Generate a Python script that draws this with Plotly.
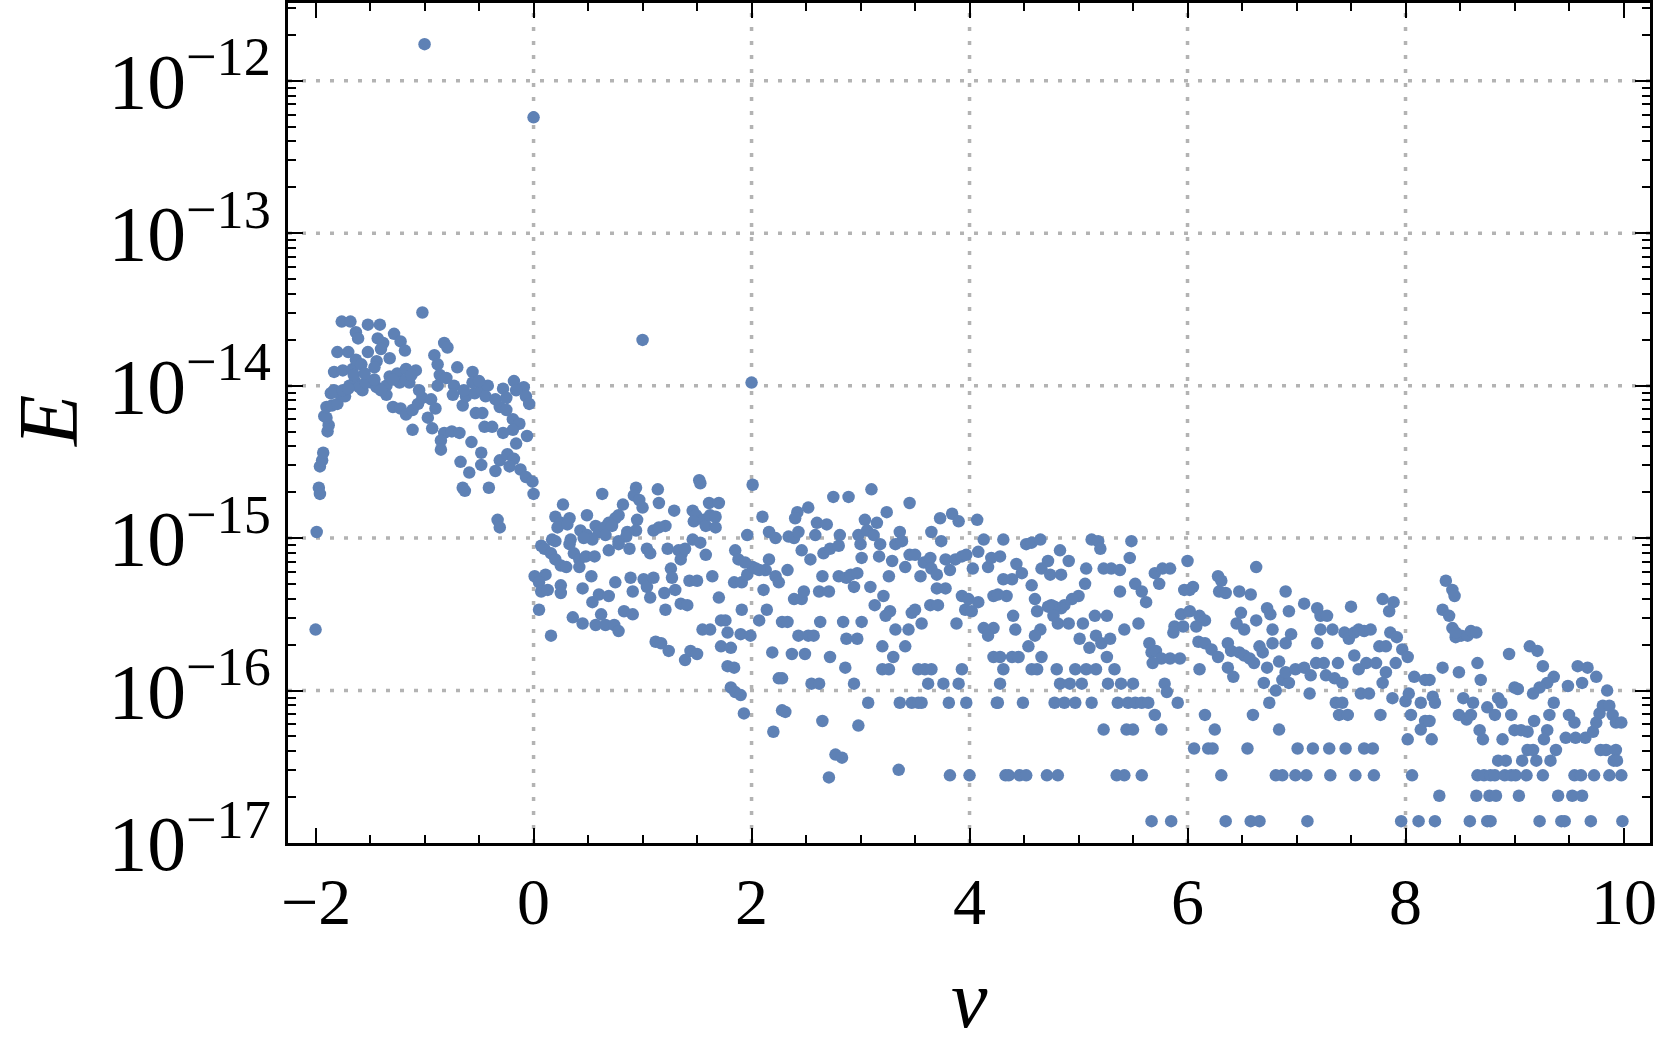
"""Scatter of E against nu on a log axis, styled like a Mathematica ListLogPlot."""

import plotly.graph_objects as go

FONT_FAMILY = "Liberation Serif"
POINT_COLOR = "#5E81B5"

# Points as (nu, log10 E).
isolated_points = [(-2.00, -15.60), (-1.00, -11.76), (0.00, -12.24), (1.00, -13.70), (2.00, -13.98)]

points_nu_m2_0 = [
    (-1.99, -14.96), (-1.97, -14.67), (-1.96, -14.71), (-1.96, -14.53), (-1.94, -14.49), (-1.93, -14.44),
    (-1.89, -14.30), (-1.88, -14.26), (-1.90, -14.21), (-1.92, -14.20), (-1.90, -14.14), (-1.85, -14.13),
    (-1.80, -14.12), (-1.83, -14.03), (-1.78, -14.05), (-1.73, -14.07), (-1.75, -14.03), (-1.83, -13.91),
    (-1.75, -13.90), (-1.80, -13.78), (-1.70, -13.78), (-1.76, -13.58), (-1.68, -13.58), (-1.63, -13.65),
    (-1.61, -13.69), (-1.66, -13.89), (-1.63, -13.83), (-1.64, -13.97), (-1.69, -14.00), (-1.57, -14.03),
    (-1.52, -13.78), (-1.52, -13.60), (-1.41, -13.60), (-1.43, -13.69), (-1.38, -13.72), (-1.40, -13.76),
    (-1.44, -13.84), (-1.46, -13.88), (-1.32, -13.82), (-1.28, -13.66), (-1.22, -13.71), (-1.18, -13.77),
    (-1.49, -13.98), (-1.44, -14.01), (-1.35, -14.00), (-1.32, -13.94), (-1.25, -13.92), (-1.17, -13.89),
    (-1.08, -13.90), (-1.23, -13.98), (-1.14, -13.98), (-1.35, -14.06), (-1.29, -14.14), (-1.22, -14.15),
    (-1.17, -14.19), (-1.11, -14.16), (-1.06, -14.12), (-1.02, -14.08), (-0.94, -14.09), (-0.90, -14.15),
    (-1.11, -14.29), (-0.97, -14.21), (-0.93, -14.28), (-1.02, -13.52), (-0.82, -13.72), (-0.79, -13.75),
    (-0.91, -13.80), (-0.88, -13.86), (-0.86, -13.93), (-0.88, -14.00), (-0.80, -13.95), (-0.73, -14.00),
    (-0.70, -13.88), (-0.56, -13.91), (-0.74, -14.06), (-0.65, -14.13), (-0.62, -14.07), (-0.54, -14.05),
    (-0.48, -14.03), (-0.42, -14.00), (-0.53, -14.18), (-0.47, -14.18), (-0.45, -14.27), (-0.38, -14.27),
    (-0.28, -14.02), (-0.18, -13.97), (-0.09, -14.01), (-0.07, -14.07), (-0.04, -14.12), (-0.31, -14.14),
    (-0.25, -14.16), (-0.19, -14.22), (-0.13, -14.25), (-0.19, -14.29), (-0.28, -14.31), (-0.16, -14.38),
    (-0.06, -14.33), (-0.82, -14.31), (-0.75, -14.30), (-0.68, -14.31), (-0.85, -14.36), (-0.85, -14.42),
    (-0.57, -14.37), (-0.48, -14.44), (-0.48, -14.52), (-0.67, -14.50), (-0.59, -14.57), (-0.65, -14.67),
    (-0.63, -14.69), (-0.41, -14.67), (-0.35, -14.56), (-0.31, -14.49), (-0.24, -14.45), (-0.18, -14.48),
    (-0.22, -14.53), (-0.12, -14.55), (-0.07, -14.60), (-0.01, -14.63), (0.00, -14.71), (-0.33, -14.88),
    (-0.31, -14.93), (-1.60, -14.01), (-1.54, -13.98), (-1.40, -14.03), (-1.46, -13.96), (-1.29, -13.96),
    (-1.17, -13.96), (-1.12, -13.93), (-1.05, -14.03), (-0.64, -14.03), (-0.56, -13.98), (-0.50, -13.97),
    (-0.44, -14.07), (-0.35, -14.09), (-0.25, -14.08), (-0.16, -14.03), (-1.86, -14.05), (-1.70, -14.02),
    (-1.65, -13.93), (-1.58, -13.86), (-1.55, -13.92),
]

points_nu_0_2 = [
    (0.27, -14.78), (0.20, -14.86), (0.25, -14.90), (0.22, -14.93), (0.33, -14.87), (0.31, -14.91),
    (0.49, -14.85), (0.63, -14.71), (0.43, -14.95), (0.49, -14.98), (0.57, -14.92), (0.60, -14.96),
    (0.65, -14.93), (0.69, -14.90), (0.75, -14.87), (0.78, -14.85), (0.82, -14.78), (0.72, -14.92),
    (0.66, -14.98), (0.54, -15.01), (0.46, -15.00), (0.94, -14.67), (0.92, -14.72), (0.97, -14.75),
    (1.00, -14.80), (0.95, -14.88), (0.94, -14.95), (0.86, -14.96), (0.85, -14.99), (0.78, -15.02),
    (1.14, -14.68), (1.15, -14.77), (1.29, -14.82), (1.10, -14.95), (1.21, -14.92), (1.15, -14.93),
    (1.52, -14.62), (1.53, -14.64), (1.46, -14.82), (1.49, -14.85), (1.47, -14.89), (1.61, -14.77),
    (1.70, -14.77), (1.56, -14.88), (1.58, -14.92), (1.67, -14.93), (1.62, -14.85), (1.67, -14.86),
    (0.07, -15.05), (0.10, -15.07), (0.17, -15.01), (0.20, -15.02), (0.16, -15.10), (0.20, -15.14),
    (0.25, -15.18), (0.30, -15.19), (0.34, -15.01), (0.33, -15.04), (0.37, -15.10), (0.42, -15.14),
    (0.42, -15.19), (0.48, -15.12), (0.56, -15.12), (0.69, -15.08), (0.78, -15.04), (0.88, -15.07),
    (1.04, -15.07), (1.07, -15.10), (1.23, -15.07), (1.33, -15.08), (1.36, -15.10), (1.35, -15.14),
    (1.39, -15.07), (1.46, -15.01), (1.53, -15.03), (1.58, -15.11), (0.01, -15.25), (0.11, -15.24),
    (0.05, -15.29), (0.07, -15.35), (0.13, -15.34), (0.25, -15.31), (0.25, -15.36), (0.45, -15.33),
    (0.53, -15.25), (0.54, -15.42), (0.60, -15.37), (0.69, -15.38), (0.75, -15.29), (0.89, -15.26),
    (0.91, -15.35), (1.01, -15.27), (1.04, -15.32), (1.07, -15.39), (1.10, -15.26), (1.20, -15.36),
    (1.26, -15.20), (1.27, -15.26), (1.30, -15.34), (1.35, -15.43), (1.41, -15.44), (1.43, -15.28),
    (1.50, -15.28), (1.64, -15.25), (1.70, -15.39), (1.84, -15.29), (1.91, -15.29), (1.96, -15.24),
    (2.01, -15.19), (2.04, -15.20), (1.91, -15.47), (1.96, -14.98), (2.01, -14.65), (0.05, -15.47),
    (0.16, -15.64), (0.36, -15.52), (0.45, -15.56), (0.57, -15.57), (0.62, -15.50), (0.66, -15.57),
    (0.74, -15.57), (0.78, -15.61), (0.83, -15.48), (0.91, -15.50), (1.21, -15.47), (1.12, -15.68),
    (1.17, -15.69), (1.24, -15.74), (1.39, -15.80), (1.44, -15.74), (1.50, -15.76), (1.55, -15.60),
    (1.62, -15.60), (1.72, -15.54), (1.76, -15.54), (1.78, -15.62), (1.72, -15.71), (1.81, -15.72),
    (1.90, -15.63), (1.99, -15.64), (1.78, -15.84), (1.84, -15.85), (1.81, -15.98), (1.85, -16.01),
    (1.90, -16.03), (1.93, -16.15), (1.85, -15.08), (1.88, -15.14), (1.94, -15.16),
]

points_nu_2_4 = [
    (2.10, -14.86), (2.16, -14.96), (2.22, -15.00), (2.42, -14.83), (2.40, -14.87), (2.52, -14.80),
    (2.34, -14.99), (2.39, -15.00), (2.43, -14.96), (2.46, -15.08), (2.54, -15.14), (2.60, -14.90),
    (2.585, -14.98), (2.69, -14.91), (2.66, -15.10), (2.72, -15.07), (2.80, -15.05), (2.81, -14.98),
    (2.75, -14.73), (2.89, -14.73), (3.10, -14.68), (2.98, -14.98), (3.04, -14.88), (3.00, -15.04),
    (3.01, -15.13), (3.06, -14.95), (3.12, -14.98), (3.15, -14.90), (3.18, -15.04), (3.17, -15.12),
    (3.24, -14.83), (3.29, -15.15), (3.32, -15.04), (3.36, -14.96), (3.38, -15.02), (3.41, -15.19),
    (3.45, -14.77), (3.45, -15.11), (3.50, -15.11), (3.58, -15.16), (3.64, -15.13), (3.65, -14.96),
    (3.73, -14.87), (3.74, -15.02), (3.84, -14.84), (3.90, -14.89), (3.65, -15.20), (3.70, -15.24),
    (3.78, -15.14), (3.82, -15.21), (3.87, -15.14), (3.93, -15.12), (3.97, -15.11), (4.07, -14.88),
    (4.13, -15.01), (4.08, -15.09), (4.03, -15.20), (4.17, -15.19), (4.20, -15.13), (2.16, -15.14),
    (2.13, -15.21), (2.22, -15.25), (2.25, -15.29), (2.07, -15.21), (2.11, -15.34), (2.33, -15.21),
    (2.39, -15.40), (2.46, -15.40), (2.48, -15.35), (2.62, -15.35), (2.71, -15.35), (2.65, -15.25),
    (2.80, -15.25), (2.87, -15.26), (2.94, -15.32), (2.91, -15.24), (2.97, -15.23), (3.09, -15.32),
    (3.21, -15.38), (3.13, -15.44), (3.26, -15.25), (3.27, -15.48), (3.23, -15.51), (3.47, -15.49),
    (3.50, -15.47), (3.55, -15.25), (3.70, -15.33), (3.78, -15.33), (3.64, -15.44), (3.71, -15.44),
    (3.93, -15.38), (3.96, -15.47), (3.99, -15.40), (4.08, -15.42), (4.02, -15.48), (4.22, -15.38),
    (2.07, -15.54), (2.14, -15.47), (2.28, -15.55), (2.33, -15.55), (2.63, -15.55), (2.84, -15.55),
    (3.01, -15.55), (2.43, -15.64), (2.52, -15.64), (2.57, -15.64), (2.87, -15.66), (2.97, -15.66),
    (3.32, -15.60), (3.44, -15.60), (3.56, -15.56), (3.88, -15.56), (4.13, -15.59), (4.17, -15.61),
    (4.22, -15.59), (4.17, -15.64), (2.19, -15.75), (2.37, -15.76), (2.49, -15.76), (2.72, -15.78),
    (3.20, -15.71), (3.30, -15.78), (3.41, -15.71), (2.86, -15.85), (3.20, -15.86), (3.26, -15.86),
    (3.53, -15.86), (3.59, -15.86), (3.65, -15.86), (3.93, -15.86), (4.22, -15.78), (2.25, -15.92),
    (2.28, -15.92), (2.55, -15.955), (2.62, -15.955), (2.94, -15.955), (3.62, -15.955), (3.76, -15.955),
    (3.90, -15.955), (3.07, -16.08), (3.36, -16.08), (3.47, -16.08), (3.53, -16.08), (3.56, -16.08),
    (3.81, -16.08), (3.97, -16.08), (4.25, -16.08), (2.28, -16.13), (2.31, -16.14), (2.65, -16.20),
    (2.20, -16.27), (2.98, -16.23), (2.77, -16.42), (2.83, -16.44), (2.71, -16.57), (3.35, -16.52),
    (3.82, -16.556), (4.00, -16.556),
]

points_nu_4_6 = [
    (4.31, -15.01), (4.52, -15.04), (4.57, -15.03), (4.65, -15.01), (4.83, -15.08), (5.12, -15.01),
    (5.18, -15.02), (5.20, -15.07), (5.485, -15.02), (5.47, -15.13), (4.28, -15.12), (4.43, -15.17),
    (4.48, -15.23), (4.66, -15.20), (4.72, -15.15), (4.74, -15.24), (4.84, -15.24), (4.91, -15.15),
    (5.07, -15.20), (5.23, -15.20), (5.30, -15.20), (5.38, -15.21), (5.70, -15.23), (5.77, -15.20),
    (5.84, -15.20), (5.74, -15.30), (5.52, -15.30), (5.58, -15.35), (5.62, -15.42), (5.38, -15.35),
    (5.06, -15.30), (5.00, -15.38), (4.94, -15.40), (4.87, -15.44), (4.84, -15.46), (4.78, -15.45),
    (4.75, -15.44), (4.72, -15.45), (4.60, -15.40), (4.62, -15.48), (4.57, -15.31), (4.39, -15.27),
    (4.31, -15.27), (4.34, -15.38), (4.26, -15.37), (4.40, -15.51), (4.42, -15.60), (4.77, -15.51),
    (4.81, -15.56), (4.91, -15.56), (5.04, -15.56), (5.15, -15.51), (5.26, -15.51), (5.01, -15.66),
    (5.10, -15.72), (5.16, -15.64), (5.21, -15.69), (5.29, -15.66), (5.26, -15.78), (5.42, -15.60),
    (5.55, -15.56), (5.65, -15.69), (5.67, -15.75), (5.71, -15.74), (5.76, -15.79), (5.84, -15.79),
    (5.93, -15.79), (5.68, -15.82), (4.65, -15.60), (4.60, -15.64), (4.54, -15.71), (4.39, -15.78),
    (4.45, -15.78), (4.66, -15.78), (4.28, -15.78), (4.31, -15.86), (4.57, -15.86), (4.62, -15.86),
    (4.80, -15.86), (4.97, -15.86), (5.07, -15.86), (5.16, -15.86), (5.33, -15.86), (4.28, -15.955),
    (4.83, -15.955), (4.92, -15.955), (5.03, -15.955), (5.27, -15.955), (5.39, -15.955), (5.50, -15.955),
    (5.79, -15.955), (5.81, -16.01), (4.26, -16.08), (4.49, -16.08), (4.78, -16.08), (4.87, -16.08),
    (4.97, -16.08), (5.12, -16.08), (5.36, -16.08), (5.455, -16.08), (5.52, -16.08), (5.58, -16.08),
    (5.64, -16.08), (5.70, -16.16), (5.91, -16.08), (5.23, -16.256), (5.44, -16.256), (5.50, -16.256),
    (5.76, -16.256), (6.16, -16.16), (6.25, -16.256), (6.06, -16.38), (6.19, -16.38), (6.23, -16.38),
    (6.31, -16.556), (4.33, -16.556), (4.36, -16.556), (4.46, -16.556), (4.52, -16.556), (4.71, -16.556),
    (4.81, -16.556), (5.35, -16.556), (5.42, -16.556), (5.58, -16.556), (5.67, -16.857), (5.85, -16.857),
    (6.35, -16.857), (6.00, -15.15), (6.02, -15.34), (5.97, -15.34), (6.05, -15.32), (5.94, -15.50),
    (6.02, -15.48), (6.11, -15.51), (6.16, -15.54), (6.28, -15.25), (6.31, -15.28), (6.29, -15.35),
    (6.35, -15.36), (6.45, -15.56), (5.88, -15.58), (5.87, -15.62), (5.96, -15.58), (6.08, -15.58),
    (6.10, -15.68), (6.16, -15.69), (6.22, -15.73), (6.28, -15.78), (6.37, -15.69), (6.40, -15.74),
    (6.37, -15.85), (6.42, -15.91), (6.11, -15.86),
]

points_nu_6_8 = [
    (6.63, -15.19), (6.475, -15.35), (6.58, -15.37), (6.90, -15.35), (6.49, -15.49), (6.52, -15.60),
    (6.63, -15.54), (6.73, -15.46), (6.76, -15.50), (6.93, -15.48), (7.07, -15.43), (7.19, -15.46),
    (7.22, -15.51), (7.28, -15.51), (7.22, -15.60), (7.33, -15.60), (7.19, -15.69), (7.44, -15.62),
    (7.48, -15.66), (7.50, -15.45), (7.53, -15.62), (7.57, -15.60), (7.62, -15.61), (7.68, -15.60),
    (7.79, -15.40), (7.89, -15.42), (7.85, -15.48), (7.86, -15.62), (7.92, -15.65), (7.97, -15.73),
    (8.02, -15.78), (7.76, -15.71), (7.82, -15.71), (7.53, -15.77), (7.64, -15.82), (7.73, -15.82),
    (6.475, -15.75), (6.52, -15.77), (6.57, -15.79), (6.61, -15.82), (6.66, -15.71), (6.69, -15.75),
    (6.73, -15.85), (6.78, -15.69), (6.84, -15.81), (6.90, -15.69), (6.95, -15.63), (6.78, -15.60),
    (6.87, -15.93), (6.93, -15.95), (6.81, -16.00), (6.90, -15.88), (6.99, -15.86), (7.07, -15.85),
    (7.13, -15.90), (7.18, -15.82), (7.25, -15.82), (7.27, -15.90), (7.38, -15.82), (7.35, -15.92),
    (7.42, -15.95), (7.57, -15.86), (7.82, -15.88), (7.91, -15.82), (7.79, -15.95), (7.88, -16.05),
    (6.70, -15.95), (6.75, -16.08), (6.60, -16.16), (6.84, -16.256), (7.12, -16.02), (7.59, -16.02),
    (7.665, -16.02), (7.36, -16.08), (7.42, -16.08), (7.39, -16.16), (7.47, -16.16), (7.77, -16.16),
    (8.00, -16.07), (8.05, -16.16), (8.08, -15.91), (8.18, -15.93), (8.03, -16.02), (8.14, -16.08),
    (8.18, -16.20), (8.14, -16.256), (8.02, -16.32), (6.55, -16.38), (7.01, -16.38), (7.15, -16.38),
    (7.30, -16.38), (7.45, -16.38), (7.62, -16.38), (7.70, -16.38), (6.81, -16.556), (6.87, -16.556),
    (6.99, -16.556), (7.09, -16.556), (7.31, -16.556), (7.54, -16.556), (7.71, -16.556), (8.06, -16.556),
    (6.58, -16.857), (6.66, -16.857), (7.10, -16.857), (7.96, -16.857), (8.12, -16.857),
]

points_nu_8_10 = [
    (8.37, -15.28), (8.43, -15.34), (8.45, -15.38), (8.34, -15.47), (8.40, -15.51), (8.43, -15.59),
    (8.46, -15.65), (8.51, -15.64), (8.57, -15.64), (8.60, -15.61), (8.65, -15.62), (8.46, -15.62),
    (8.22, -15.93), (8.25, -16.04), (8.27, -16.08), (8.22, -16.20), (8.24, -16.32), (8.34, -15.85),
    (8.49, -15.88), (8.66, -15.82), (8.69, -15.93), (8.53, -16.05), (8.62, -16.08), (8.49, -16.16),
    (8.56, -16.19), (8.60, -16.16), (8.68, -16.26), (8.71, -16.32), (8.75, -16.11), (8.82, -16.16),
    (8.85, -16.05), (8.88, -16.08), (8.89, -16.32), (8.95, -15.76), (8.97, -16.16), (9.00, -15.98),
    (9.03, -15.99), (9.00, -16.26), (9.06, -16.26), (9.12, -16.27), (9.14, -15.71), (9.21, -15.74),
    (9.26, -15.84), (9.36, -15.91), (9.30, -15.95), (9.23, -15.98), (9.17, -16.02), (9.18, -16.20),
    (9.12, -16.39), (9.17, -16.39), (9.30, -16.26), (9.27, -16.32), (9.32, -16.16), (9.36, -16.08),
    (9.38, -16.39), (9.33, -16.46), (9.20, -16.46), (9.07, -16.46), (8.85, -16.46), (8.92, -16.46),
    (9.47, -16.31), (9.49, -15.97), (9.50, -16.16), (9.55, -16.21), (9.56, -16.31), (9.58, -15.84),
    (9.62, -15.95), (9.65, -16.31), (9.67, -15.85), (9.75, -15.91), (9.72, -16.27), (9.75, -16.21),
    (9.78, -16.15), (9.81, -16.10), (9.87, -16.10), (9.90, -16.16), (9.85, -16.00), (9.93, -16.21),
    (9.98, -16.21), (9.79, -16.39), (9.84, -16.39), (9.93, -16.39), (9.91, -16.46), (9.94, -16.46),
    (8.66, -16.556), (8.72, -16.556), (8.78, -16.556), (8.82, -16.556), (8.91, -16.556), (8.97, -16.556),
    (9.01, -16.556), (9.11, -16.556), (9.26, -16.556), (9.55, -16.556), (9.61, -16.556), (9.73, -16.556),
    (9.87, -16.556), (9.98, -16.556), (8.31, -16.69), (8.65, -16.69), (8.77, -16.69), (8.83, -16.69),
    (9.04, -16.69), (9.40, -16.69), (9.53, -16.69), (9.62, -16.69), (8.27, -16.857), (8.59, -16.857),
    (8.75, -16.857), (8.78, -16.857), (9.23, -16.857), (9.43, -16.857), (9.46, -16.857), (9.70, -16.857),
    (9.99, -16.857),
]

x_ticks = [-2, 0, 2, 4, 6, 8, 10]
x_grid = [0, 2, 4, 6, 8]
y_grid = [1e-12, 1e-13, 1e-14, 1e-15, 1e-16]

all_points = (isolated_points + points_nu_m2_0 + points_nu_0_2 + points_nu_2_4
              + points_nu_4_6 + points_nu_6_8 + points_nu_8_10)
nu = [p[0] for p in all_points]
E = [10 ** p[1] for p in all_points]

fig = go.Figure()
fig.add_trace(go.Scatter(
    x=nu, y=E, mode="markers",
    marker=dict(size=12.5, color=POINT_COLOR, line=dict(width=0)),
    hovertemplate="ν=%{x}<br>E=%{y:.2e}<extra></extra>",
    showlegend=False,
))

# dotted grid, only at the interior ticks (Mathematica style)
grid_style = dict(color="#b3b3b3", width=3.5, dash="4px,10px")
for gx in x_grid:
    fig.add_shape(type="line", xref="x", yref="paper", x0=gx, x1=gx, y0=0, y1=1,
                  line=grid_style, layer="below")
for gy in y_grid:
    fig.add_shape(type="line", xref="paper", yref="y", x0=0, x1=1, y0=gy, y1=gy,
                  line=grid_style, layer="below")

axis_common = dict(
    showline=True, linecolor="black", linewidth=2.5, mirror="ticks",
    ticks="inside", ticklen=15, tickwidth=2, tickcolor="black",
    showgrid=False, zeroline=False, automargin=False,
)

fig.update_xaxes(
    range=[-2.253, 10.243], tickvals=x_ticks, showticklabels=False,
    minor=dict(ticks="inside", ticklen=8, tickwidth=2, tickcolor="black", dtick=0.5, showgrid=False),
    **axis_common,
)
fig.update_yaxes(
    type="log", range=[-17.0, -11.49], dtick=1, exponentformat="power", showexponent="all",
    ticklabelstandoff=2,
    tickfont=dict(family=FONT_FAMILY, size=62, color="black"),
    minor=dict(ticks="inside", ticklen=8, tickwidth=2, tickcolor="black", dtick="D1", showgrid=False),
    **axis_common,
)

# x tick labels placed by hand, closer to the frame than plotly's own labels allow
for v in x_ticks:
    fig.add_annotation(text=str(v).replace("-", "\u2212"), x=v, xref="x", y=0, yref="paper",
                       xanchor="center", yanchor="top", yshift=-20, showarrow=False,
                       font=dict(family=FONT_FAMILY, size=66, color="black"))

fig.add_annotation(text="<i>ν</i>", xref="paper", yref="paper", x=0.5, y=-0.2425,
                   xanchor="center", yanchor="bottom", showarrow=False,
                   font=dict(family=FONT_FAMILY, size=82, color="black"))
fig.add_annotation(text="<i>E</i>", xref="paper", yref="paper", x=-0.2115, y=0.503,
                   xanchor="left", yanchor="middle", textangle=-90, showarrow=False,
                   font=dict(family=FONT_FAMILY, size=84, color="black"))

fig.update_layout(
    width=1661, height=1048,
    margin=dict(l=288, r=11, t=3, b=205),
    plot_bgcolor="white", paper_bgcolor="white",
    font=dict(family=FONT_FAMILY, color="black"),
)

# the page body has a default 8px margin; drop it so the figure sits at the window corner
fig.write_html(
    "out.html",
    config={"displayModeBar": False},
    post_script="document.body.style.margin='0';document.body.style.overflow='hidden';",
)
